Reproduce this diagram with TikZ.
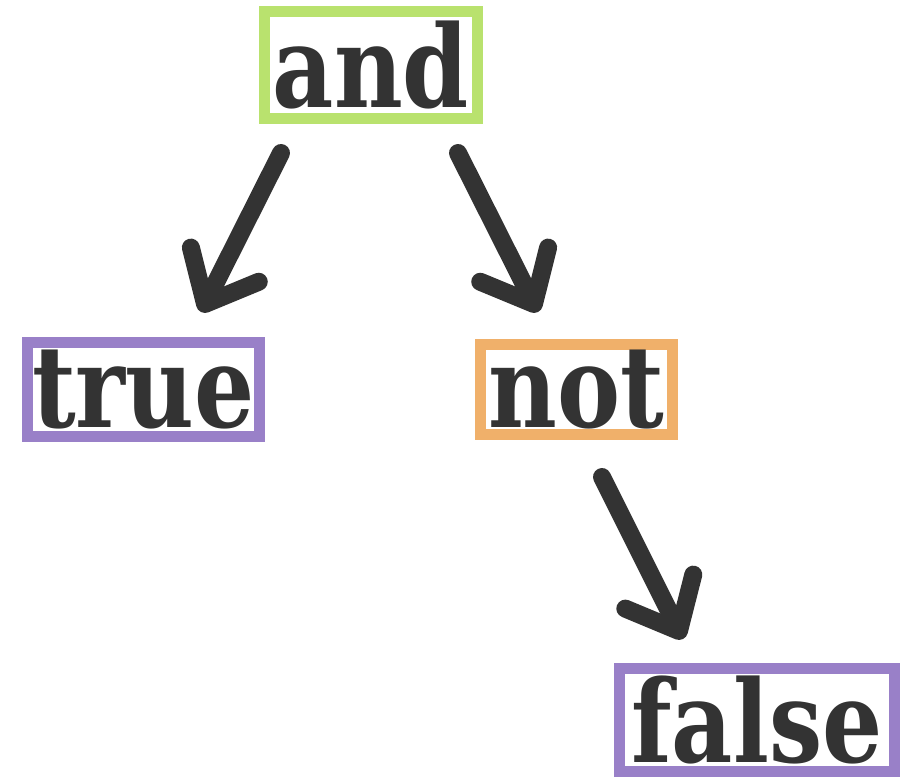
\documentclass[tikz,border=0pt]{standalone}
\usepackage{fontspec}
\usetikzlibrary{arrows.meta}
\newfontfamily\slabfont[FakeStretch=0.83]{DejaVu Serif}
\definecolor{ink}{HTML}{333333}
\definecolor{boxgreen}{RGB}{185,226,110}
\definecolor{boxpurple}{RGB}{153,128,200}
\definecolor{boxorange}{RGB}{240,176,106}
\tikzset{
  word/.style={draw, line width=11pt, inner sep=0pt, text=ink,
    font=\slabfont\bfseries\fontsize{114}{114}\selectfont},
  link/.style={draw=ink, line width=18pt, line cap=round, line join=round,
    -{Straight Barb[length=44pt,width=76pt,round]}}
}
\begin{document}
\begin{tikzpicture}[x=1pt,y=-1pt]
\useasboundingbox (0,0) rectangle (915,780);
\node[word, draw=boxgreen, minimum width=213pt, minimum height=107pt] (and) at (371,65) {and};
\node[word, draw=boxpurple, minimum width=232pt, minimum height=94pt] (true) at (143.5,389.5) {true};
\node[word, draw=boxorange, minimum width=192pt, minimum height=90pt] (not) at (576.5,389.5) {not};
\node[word, draw=boxpurple, minimum width=275pt, minimum height=103pt] (false) at (757,719.5) {false};
\coordinate (a1s) at (281,153);
\coordinate (a1e) at (201,312);
\coordinate (a2s) at (458,153);
\coordinate (a2e) at (538,312);
\coordinate (a3s) at (602,477);
\coordinate (a3e) at (683,639);
\draw[link] (a1s) -- (a1e);
\draw[link] (a2s) -- (a2e);
\draw[link] (a3s) -- (a3e);
\end{tikzpicture}
\end{document}
